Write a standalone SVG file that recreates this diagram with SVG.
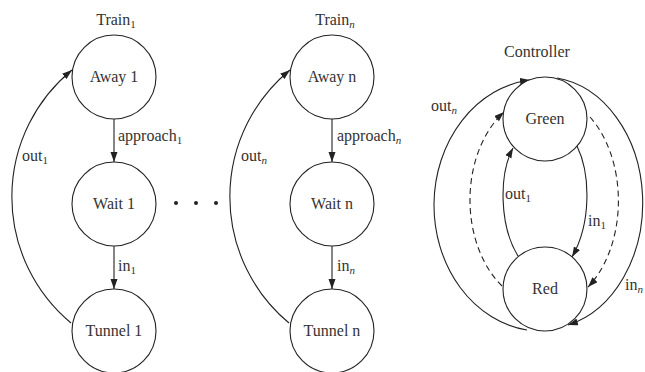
<svg xmlns="http://www.w3.org/2000/svg" width="645" height="372" viewBox="0 0 645 372" font-family="'Liberation Serif', 'Times New Roman', serif">
<defs>
<marker id="arr" markerUnits="userSpaceOnUse" markerWidth="11" markerHeight="8" refX="10" refY="3.5" orient="auto">
<path d="M0,0 L10,3.5 L0,7 z" fill="#222"/>
</marker>
<style>
text{font-family:'Liberation Serif','Times New Roman',serif;font-size:16px;fill:#333}
.c{text-anchor:middle}
.sub{font-size:11px}
circle.n{fill:#fff;stroke:#222;stroke-width:1.1}
.e{fill:none;stroke:#222;stroke-width:1.1;marker-end:url(#arr)}
.d{stroke-dasharray:6 4}
</style>
</defs>
<rect width="645" height="372" fill="#fff"/>

<g id="connectors">
<path class="e" d="M114 119 L114 162"/>
<path class="e" d="M114 246 L114 289"/>
<path class="e" d="M71 323 A164 164 0 0 1 72 70"/>
<path class="e" d="M332 119 L332 162"/>
<path class="e" d="M332 246 L332 289"/>
<path class="e" d="M289 323 A164 164 0 0 1 290 70"/>
<path class="e" d="M527 330 A108 126 0 0 1 530 80"/>
<path class="e" d="M557 78 A99 126 0 0 1 568 325"/>
<path class="e d" d="M502 286 A75 105 0 0 1 504 112"/>
<path class="e d" d="M590 117 A73 106 0 0 1 588 287"/>
<path class="e" d="M518 256 C499 225 499 174 513 148"/>
<path class="e" d="M577 146 C591 175 591 224 572 257"/>
</g>

<g id="labels">
<text x="116" y="25" class="c">Train<tspan class="sub" dy="3">1</tspan></text>
<text x="335" y="25" class="c">Train<tspan class="sub" dy="3" font-style="italic">n</tspan></text>
<text x="537" y="57" class="c">Controller</text>
<text x="118" y="141">approach<tspan class="sub" dy="3">1</tspan></text>
<text x="118" y="271">in<tspan class="sub" dy="3">1</tspan></text>
<text x="22" y="161">out<tspan class="sub" dy="3">1</tspan></text>
<text x="337" y="141">approach<tspan class="sub" dy="3" font-style="italic">n</tspan></text>
<text x="337" y="271">in<tspan class="sub" dy="3" font-style="italic">n</tspan></text>
<text x="241" y="161">out<tspan class="sub" dy="3" font-style="italic">n</tspan></text>
<text x="431" y="111">out<tspan class="sub" dy="3" font-style="italic">n</tspan></text>
<text x="505" y="199">out<tspan class="sub" dy="3">1</tspan></text>
<text x="588" y="226">in<tspan class="sub" dy="3">1</tspan></text>
<text x="625" y="290">in<tspan class="sub" dy="3" font-style="italic">n</tspan></text>
</g>

<g id="dots" fill="#222">
<circle cx="176" cy="203" r="2"/>
<circle cx="196" cy="203" r="2"/>
<circle cx="216" cy="203" r="2"/>
</g>

<g id="away1"><circle class="n" cx="114" cy="77" r="42"/><text x="114" y="82" class="c">Away 1</text></g>
<g id="wait1"><circle class="n" cx="114" cy="204" r="42"/><text x="114" y="209" class="c">Wait 1</text></g>
<g id="tunnel1"><circle class="n" cx="114" cy="331" r="42"/><text x="114" y="336" class="c">Tunnel 1</text></g>
<g id="awayn"><circle class="n" cx="332" cy="77" r="42"/><text x="332" y="82" class="c">Away n</text></g>
<g id="waitn"><circle class="n" cx="332" cy="204" r="42"/><text x="332" y="209" class="c">Wait n</text></g>
<g id="tunneln"><circle class="n" cx="332" cy="331" r="42"/><text x="332" y="336" class="c">Tunnel n</text></g>
<g id="green"><circle class="n" cx="545" cy="119" r="42"/><text x="545" y="124" class="c">Green</text></g>
<g id="red"><circle class="n" cx="545" cy="289" r="42"/><text x="545" y="294" class="c">Red</text></g>
</svg>
